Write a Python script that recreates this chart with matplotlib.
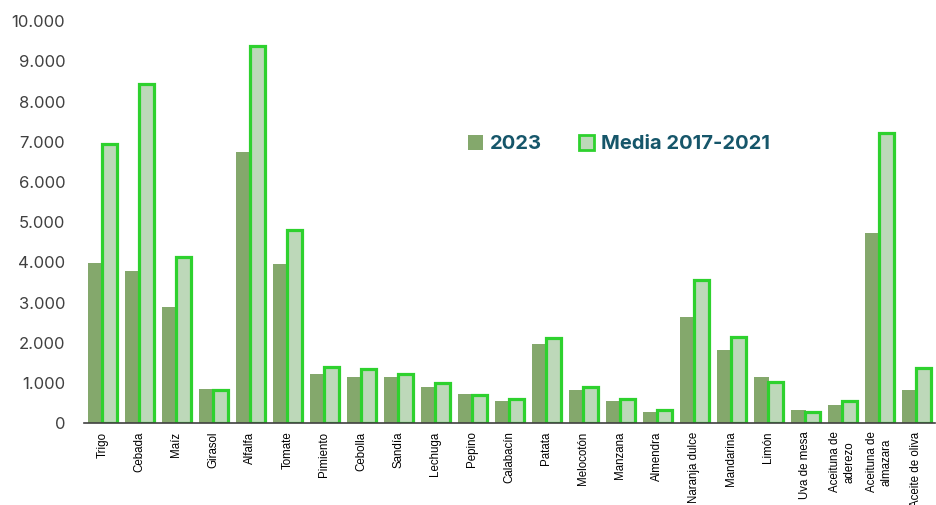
import numpy as np
import matplotlib.pyplot as plt
from matplotlib.patches import Patch
from matplotlib.ticker import FuncFormatter

cultivos = ['Trigo', 'Cebada', 'Maíz', 'Girasol', 'Alfalfa', 'Tomate', 'Pimiento',
            'Cebolla', 'Sandía', 'Lechuga', 'Pepino', 'Calabacín', 'Patata',
            'Melocotón', 'Manzana', 'Almendra', 'Naranja dulce', 'Mandarina',
            'Limón', 'Uva de mesa', 'Aceituna de\naderezo', 'Aceituna de\nalmazara',
            'Aceite de oliva']
v2023 = [3975, 3780, 2900, 860, 6750, 3960, 1225, 1145, 1140, 905, 735, 548, 1970,
         820, 548, 282, 2640, 1815, 1158, 322, 447, 4735, 828]
media = [6935, 8430, 4125, 840, 9370, 4805, 1390, 1355, 1225, 990, 712, 612, 2128,
         903, 597, 338, 3560, 2138, 1034, 290, 562, 7210, 1382]

c2023 = '#84a86c'
cmedia = '#bdd8b9'
cedge = '#2ed12e'
txt = '#404040'

fig = plt.figure(figsize=(9.37, 5.05), dpi=100)
ax = fig.add_axes([0.0896, 0.1618, 0.908, 0.7964])

x = np.arange(len(cultivos))
ax.bar(x - 0.39, v2023, width=0.42, align='edge', color=c2023, zorder=2)
ax.bar(x + 0.0, media, width=0.39, align='edge', color=cmedia,
       edgecolor=cedge, linewidth=2.3, zorder=3)

ax.set_xlim(-0.5, len(cultivos) - 0.5)
ax.set_ylim(0, 10000)
ax.set_yticks(np.arange(0, 10001, 1000))
ax.yaxis.set_major_formatter(FuncFormatter(lambda v, p: f'{int(v):,}'.replace(',', '.')))
ax.tick_params(axis='y', length=0, pad=13.5, labelsize=12, labelcolor=txt)
for lab in ax.get_yticklabels():
    lab.set_family('Inter')

ax.set_xticks(x)
ax.set_xticklabels(cultivos, rotation=90, fontsize=8.3, family='Liberation Sans',
                   va='top', ha='center', linespacing=1.2)
ax.tick_params(axis='x', length=0, pad=6)

for s in ['top', 'right', 'left']:
    ax.spines[s].set_visible(False)
ax.spines['bottom'].set_color('#404040')
ax.spines['bottom'].set_linewidth(1.2)
ax.spines['bottom'].set_zorder(4)

handles = [Patch(facecolor=c2023, edgecolor='none', label='2023'),
           Patch(facecolor=cmedia, edgecolor=cedge, linewidth=2.0, label='Media 2017-2021')]
leg = ax.legend(handles=handles, loc='center', bbox_to_anchor=(0.629, 0.694),
                ncol=2, frameon=False, handlelength=0.75, handleheight=0.75,
                handletextpad=0.35, columnspacing=1.85,
                prop={'family': 'Inter', 'weight': 'bold', 'size': 14.5})
for t in leg.get_texts():
    t.set_color('#16566a')

plt.savefig('out.png', dpi=100)
